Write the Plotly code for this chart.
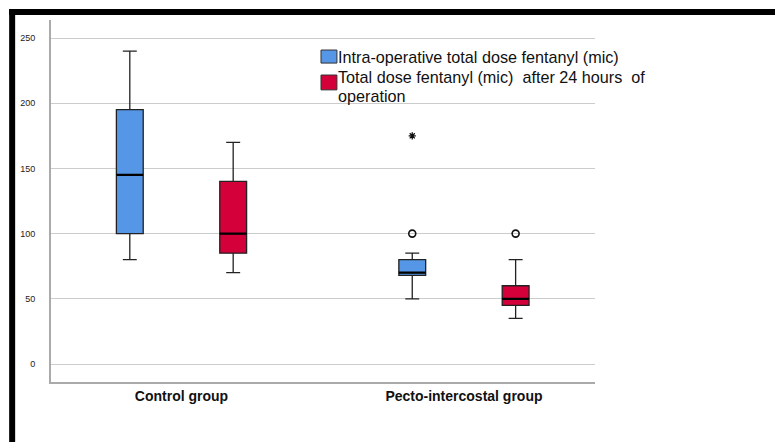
import plotly.graph_objects as go

groups = ["Control group", "Pecto-intercostal group"]
series_names = ["Intra-operative total dose fentanyl (mic)",
                "Total dose fentanyl (mic)  after 24 hours  of"]
series_names_cont = ["", "operation"]
colors = ["#5596e6", "#d4003a"]

# box statistics per series, one value per group
lower = [[80, 50], [70, 35]]
q1 = [[100, 68], [85, 45]]
median = [[145, 70], [100, 50]]
q3 = [[195, 80], [140, 60]]
upper = [[240, 85], [170, 80]]

# outliers: (series index, group index, value)
outliers = [(0, 1, 100), (1, 1, 100)]
extremes = [(0, 1, 175)]

offsets = [-0.183, 0.183]
group_pos = [0, 1]

fig = go.Figure()
for s in range(2):
    xs = [g + offsets[s] for g in group_pos]
    fig.add_trace(go.Box(
        x=xs,
        lowerfence=lower[s], q1=q1[s], median=median[s], q3=q3[s], upperfence=upper[s],
        name=series_names[s],
        fillcolor=colors[s],
        line=dict(color="#222222", width=1.3),
        width=0.095, whiskerwidth=0.52,
        hoverinfo="y", showlegend=False,
    ))
    # thicker median bar, SPSS style
    fig.add_trace(go.Box(
        x=xs,
        lowerfence=median[s], q1=median[s], median=median[s], q3=median[s], upperfence=median[s],
        fillcolor="black", line=dict(color="black", width=2.2),
        width=0.095, whiskerwidth=0,
        hoverinfo="skip", showlegend=False,
    ))

fig.add_trace(go.Scatter(
    x=[group_pos[g] + offsets[s] for s, g, v in outliers],
    y=[v for s, g, v in outliers],
    mode="markers",
    marker=dict(symbol="circle-open", size=7, color="#111111", line=dict(width=1.6)),
    showlegend=False, hoverinfo="y",
))
fig.add_trace(go.Scatter(
    x=[group_pos[g] + offsets[s] for s, g, v in extremes],
    y=[v for s, g, v in extremes],
    mode="markers",
    marker=dict(symbol="asterisk-open", size=6, color="#111111", line=dict(width=1.3, color="#111111")),
    showlegend=False, hoverinfo="y",
))

# black frame along top and left of picture
fig.add_shape(type="line", xref="paper", yref="paper", x0=-0.077, x1=1.4, y0=1.0221, y1=1.0221,
              line=dict(color="black", width=6))
fig.add_shape(type="line", xref="paper", yref="paper", x0=-0.0714, x1=-0.0714, y0=1.030, y1=-0.3,
              line=dict(color="black", width=6))

# legend drawn by hand (SPSS style: square swatch right next to text)
swatches = [(0.917, 0.881), (0.848, 0.807)]
for s in range(2):
    fig.add_shape(type="rect", xref="paper", yref="paper", x0=0.4963, x1=0.5256,
                  y0=swatches[s][1], y1=swatches[s][0],
                  fillcolor=colors[s], line=dict(color="#333333", width=1))
label_y = [(0.898, None), (0.8425, 0.7895)]
for s in range(2):
    fig.add_annotation(xref="paper", yref="paper", x=0.525, y=label_y[s][0], xanchor="left",
                       yanchor="middle", text=series_names[s], showarrow=False,
                       font=dict(size=16.2, color="#111111"), borderpad=0)
    if label_y[s][1] is not None:
        fig.add_annotation(xref="paper", yref="paper", x=0.525, y=label_y[s][1], xanchor="left",
                           yanchor="middle", text=series_names_cont[s], showarrow=False,
                           font=dict(size=16.2, color="#111111"), borderpad=0)

fig.update_layout(
    width=775, height=434,
    margin=dict(l=41, r=188, t=12, b=60),
    paper_bgcolor="white", plot_bgcolor="white",
    font=dict(family="Arial, Liberation Sans", color="#000000"),
    showlegend=False,
    xaxis=dict(range=[-0.462, 1.464], tickvals=group_pos, ticktext=["<b>%s</b>" % g for g in groups],
               showgrid=False, zeroline=False, showline=True, linecolor="#aaaaaa", linewidth=2,
               tickfont=dict(size=14, color="#111111"), ticks=""),
    yaxis=dict(range=[-13.8, 263.8], tickvals=[0, 50, 100, 150, 200, 250],
               showgrid=True, gridcolor="#cccccc", gridwidth=1, zeroline=False,
               showline=True, linecolor="#aaaaaa", linewidth=2,
               tickfont=dict(size=9, color="#222222"), ticks="", ticklabelstandoff=12),
)

fig.write_html("out.html")
